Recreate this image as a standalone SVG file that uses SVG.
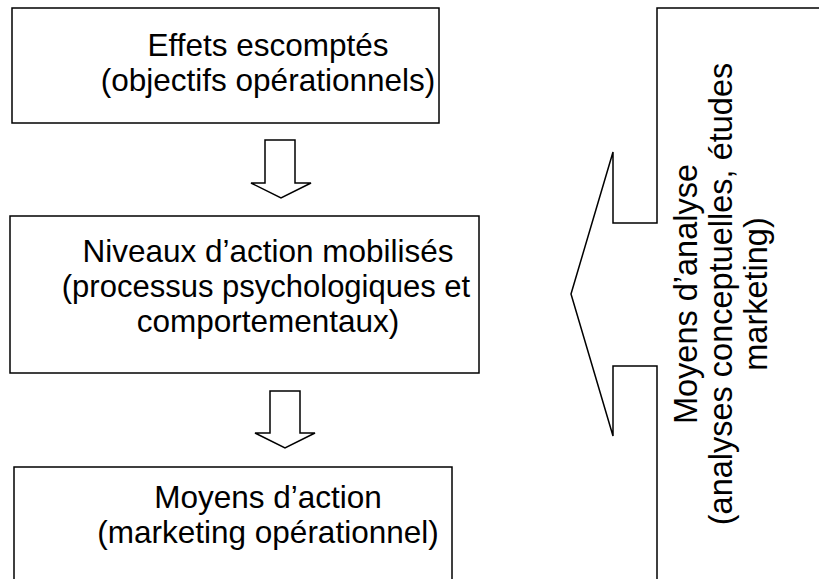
<svg xmlns="http://www.w3.org/2000/svg" width="819" height="579" viewBox="0 0 819 579">
<style>
.box{fill:#fff;stroke:#000;stroke-width:1.5}
.ar{fill:#fff;stroke:#000;stroke-width:1.5;stroke-linejoin:miter}
.t{font-family:"Liberation Sans",Arial,sans-serif;font-size:31.5px;fill:#000;text-anchor:middle}
.v{font-size:32.5px}
</style>
<rect width="819" height="579" fill="#fff"/>
<g id="effets">
<rect class="box" x="12" y="8" width="427" height="115"/>
<text class="t" x="268" y="56">Effets escomptés</text>
<text class="t" x="268" y="91">(objectifs opérationnels)</text>
</g>
<g id="niveaux">
<rect class="box" x="10" y="216" width="469" height="157"/>
<text class="t" x="268" y="262">Niveaux d’action mobilisés</text>
<text class="t" x="266" y="297" style="font-size:31px">(processus psychologiques et</text>
<text class="t" x="268" y="332">comportementaux)</text>
</g>
<g id="moyens-action">
<rect class="box" x="14" y="467" width="438" height="130"/>
<text class="t" x="268" y="508">Moyens d’action</text>
<text class="t" x="268" y="543">(marketing opérationnel)</text>
</g>
<g id="moyens-analyse">
<path class="ar" d="M830,8 H657 V223 H613 V152 L571,294 L613,436 V366 H657 V590"/>
<g transform="translate(0,294) rotate(-90)">
<text class="t v" x="0" y="697">Moyens d’analyse</text>
<text class="t v" x="0" y="732">(analyses conceptuelles, études</text>
<text class="t v" x="0" y="767">marketing)</text>
</g>
</g>
<g id="connectors">
<polygon class="ar" points="265,140 295,140 295,183 311,183 281,198 251,183 265,183"/>
<polygon class="ar" points="270,391 300,391 300,433 315,433 285,448 255,433 270,433"/>
</g>
</svg>
